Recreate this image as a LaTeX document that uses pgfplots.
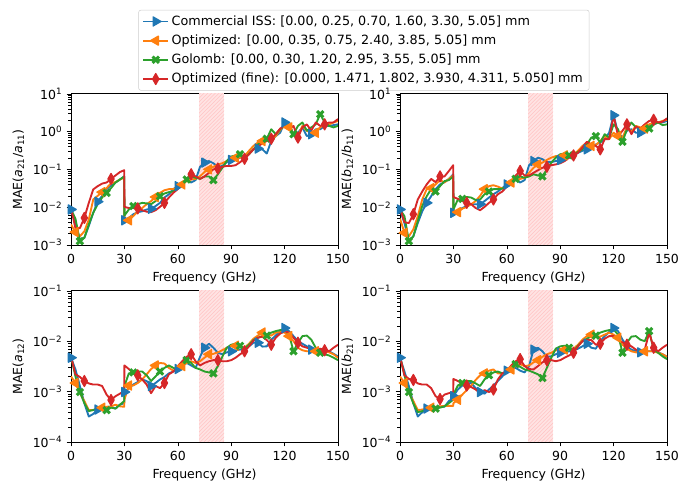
\documentclass[border=0pt]{standalone}
\usepackage{fontspec}
\setmainfont{DejaVu Sans}
\usepackage{pgfplots}
\pgfplotsset{compat=1.18}
\usepackage{pgfplotstable}
\usetikzlibrary{patterns}

\definecolor{tabblue}{HTML}{1F77B4}
\definecolor{taborange}{HTML}{FF7F0E}
\definecolor{tabgreen}{HTML}{2CA02C}
\definecolor{tabred}{HTML}{D62728}
\definecolor{bandfill}{HTML}{FFE3E3}
\definecolor{bandhatch}{HTML}{FFC4C4}

\pgfkeys{/pgf/number format/assume math mode=true}

% columns: frequency (GHz), Commercial ISS, Optimized, Golomb, Optimized (fine)
\pgfplotstableread{
f b o g r
0 8.7e-3 3.5e-3 8.7e-3 9.5e-3
2.5 3.8e-3 2.2e-3 5.0e-3 2.8e-3
5 1.4e-3 1.7e-3 1.26e-3 2.8e-3
7.5 1.55e-3 2.3e-3 1.55e-3 5.2e-3
10 3.2e-3 4.7e-3 3.5e-3 1.3e-2
12.5 7.1e-3 1.6e-2 7.1e-3 2.95e-2
15 1.4e-2 2.0e-2 1.2e-2 3.6e-2
17.5 2.0e-2 2.5e-2 1.8e-2 4.2e-2
20 3.0e-2 3.2e-2 2.4e-2 4.5e-2
22.5 3.8e-2 4.3e-2 3.2e-2 5.6e-2
25 4.5e-2 4.6e-2 4.5e-2 6.9e-2
27.5 5.4e-2 5.4e-2 5.4e-2 8.5e-2
29.9 6.5e-2 6.0e-2 6.5e-2 9.5e-2
30 4.5e-3 5.2e-3 6.0e-3 1.02e-2
32.5 5.2e-3 4.5e-3 8.7e-3 9.5e-3
35 6.5e-3 5.8e-3 1.07e-2 9.5e-3
37.5 7.4e-3 7.8e-3 1.2e-2 9.3e-3
40 7.8e-3 9.5e-3 1.3e-2 8.3e-3
42.5 8.7e-3 1.2e-2 1.26e-2 7.6e-3
45 9.1e-3 1.45e-2 1.2e-2 7.4e-3
47.5 1.07e-2 1.86e-2 1.45e-2 8.3e-3
50 1.3e-2 2.4e-2 1.95e-2 1.02e-2
52.5 1.8e-2 2.8e-2 2.3e-2 1.3e-2
55 2.2e-2 3.0e-2 2.5e-2 1.8e-2
57.5 3.0e-2 3.0e-2 2.6e-2 2.4e-2
60 3.6e-2 3.5e-2 3.2e-2 3.0e-2
62.5 4.5e-2 4.0e-2 4.0e-2 4.0e-2
65 5.2e-2 4.9e-2 5.4e-2 5.6e-2
67.5 4.5e-2 5.4e-2 6.5e-2 7.4e-2
70 5.2e-2 5.6e-2 6.0e-2 6.5e-2
72.5 0.117 6.6e-2 5.6e-2 5.6e-2
75 0.151 8.5e-2 6.5e-2 6.5e-2
77.5 0.166 0.100 6.5e-2 8.1e-2
80 0.145 0.117 5.2e-2 0.100
82.5 0.117 0.135 7.4e-2 0.105
85 0.123 0.145 0.110 0.117
87.5 0.155 0.166 0.166 0.123
90 0.178 0.186 0.219 0.123
92.5 0.186 0.204 0.234 0.129
95 0.204 0.204 0.251 0.155
97.5 0.224 0.224 0.204 0.191
100 0.275 0.309 0.251 0.251
102.5 0.339 0.417 0.339 0.339
105 0.355 0.513 0.457 0.398
107.5 0.339 0.562 0.537 0.490
110 0.263 0.631 0.646 0.562
112.5 0.562 0.631 1.15 0.646
115 0.759 0.759 0.851 0.851
117.5 0.933 1.10 1.15 1.20
120 1.74 1.41 1.41 1.41
122.5 1.55 1.29 1.55 1.15
125 0.851 0.851 0.851 1.41
127.5 0.933 0.759 1.41 0.692
130 1.29 1.41 1.74 1.29
132.5 0.759 1.05 1.05 1.55
135 0.851 0.933 1.29 1.05
137.5 1.15 0.933 1.55 1.74
140 1.15 1.29 2.88 1.41
142.5 1.41 1.55 1.74 1.55
145 1.41 1.55 1.41 1.74
147.5 1.48 1.74 1.29 1.74
150 1.55 1.91 1.41 2.14
}\tabAA

\pgfplotstableread{
f b o g r
0 8.7e-3 5.0e-3 8.7e-3 9.5e-3
2.5 3.8e-3 2.1e-3 5.8e-3 4.0e-3
5 1.26e-3 1.7e-3 1.26e-3 3.8e-3
7.5 1.7e-3 2.6e-3 1.7e-3 6.5e-3
10 3.8e-3 5.8e-3 4.3e-3 1.6e-2
12.5 7.8e-3 1.6e-2 1.07e-2 2.6e-2
15 1.3e-2 3.0e-2 1.95e-2 4.0e-2
17.5 1.95e-2 3.2e-2 3.0e-2 5.6e-2
20 3.0e-2 4.0e-2 2.6e-2 4.6e-2
22.5 4.0e-2 5.2e-2 3.6e-2 6.5e-2
25 4.6e-2 4.5e-2 4.9e-2 6.5e-2
27.5 5.6e-2 5.6e-2 5.2e-2 9.1e-2
29.9 7.4e-2 6.9e-2 6.5e-2 0.129
30 7.1e-3 6.5e-3 8.7e-3 1.86e-2
32.5 7.8e-3 7.4e-3 1.6e-2 1.66e-2
35 9.5e-3 9.1e-3 1.66e-2 1.45e-2
37.5 1.07e-2 1.02e-2 1.86e-2 1.3e-2
40 1.2e-2 1.2e-2 1.8e-2 1.2e-2
42.5 1.2e-2 1.45e-2 1.55e-2 9.5e-3
45 1.2e-2 2.0e-2 1.6e-2 8.3e-3
47.5 1.45e-2 3.0e-2 2.2e-2 1.02e-2
50 1.8e-2 3.6e-2 2.6e-2 1.3e-2
52.5 2.2e-2 3.8e-2 3.0e-2 1.6e-2
55 2.6e-2 3.5e-2 3.0e-2 2.2e-2
57.5 3.2e-2 3.1e-2 3.1e-2 2.6e-2
60 4.0e-2 3.6e-2 3.6e-2 3.5e-2
62.5 4.9e-2 4.5e-2 4.5e-2 4.9e-2
65 5.4e-2 5.2e-2 5.6e-2 6.9e-2
67.5 4.5e-2 5.6e-2 6.5e-2 9.1e-2
70 5.2e-2 6.0e-2 6.0e-2 6.9e-2
72.5 0.129 8.1e-2 6.5e-2 6.9e-2
75 0.166 0.110 7.4e-2 8.1e-2
77.5 0.204 0.135 6.9e-2 9.5e-2
80 0.186 0.151 6.5e-2 0.110
82.5 0.155 0.178 0.100 0.117
85 0.155 0.204 0.151 0.129
87.5 0.166 0.224 0.204 0.135
90 0.178 0.224 0.251 0.145
92.5 0.191 0.234 0.263 0.166
95 0.204 0.251 0.234 0.204
97.5 0.224 0.251 0.251 0.234
100 0.275 0.309 0.288 0.275
102.5 0.309 0.417 0.339 0.380
105 0.339 0.513 0.457 0.537
107.5 0.380 0.417 0.692 0.457
110 0.457 0.437 0.759 0.417
112.5 0.513 0.562 0.513 0.339
115 0.631 0.759 0.851 0.631
117.5 0.933 0.631 0.692 0.631
120 2.69 0.933 1.55 2.63
122.5 0.933 0.759 1.15 0.759
125 0.692 0.692 0.537 1.05
127.5 1.05 1.29 1.15 1.55
130 1.15 0.977 1.74 0.851
132.5 0.933 1.41 1.29 1.35
135 0.933 1.29 1.20 1.20
137.5 1.15 1.20 1.35 1.55
140 1.41 1.55 1.20 1.91
142.5 1.55 1.74 1.55 2.04
145 1.74 1.74 1.74 1.74
147.5 1.74 1.91 1.48 1.82
150 1.91 2.04 1.55 2.24
}\tabBB

\pgfplotstableread{
f b o g r
0 4.7e-3 2.0e-3 5.0e-3 5.0e-3
2.5 2.75e-3 1.48e-3 2.0e-3 2.2e-3
5 1.29e-3 9.3e-4 9.8e-4 1.95e-3
7.5 5.9e-4 6.5e-4 5.9e-4 1.62e-3
10 3.2e-4 4.3e-4 4.1e-4 1.45e-3
12.5 3.6e-4 4.3e-4 4.3e-4 1.38e-3
15 4.4e-4 4.6e-4 4.6e-4 1.38e-3
17.5 4.4e-4 4.8e-4 4.4e-4 1.29e-3
20 4.8e-4 5.0e-4 4.3e-4 8.7e-4
22.5 5.0e-4 5.1e-4 4.8e-4 6.8e-4
25 4.6e-4 5.5e-4 4.6e-4 8.1e-4
27.5 5.5e-4 5.1e-4 5.5e-4 9.1e-4
29.9 5.9e-4 5.0e-4 6.5e-4 1.02e-3
30 9.8e-4 6.9e-4 1.29e-3 3.3e-3
32.5 1.17e-3 1.32e-3 2.3e-3 2.8e-3
35 1.38e-3 1.32e-3 2.4e-3 2.3e-3
37.5 1.55e-3 1.48e-3 2.5e-3 2.1e-3
40 1.74e-3 1.74e-3 2.5e-3 1.74e-3
42.5 1.62e-3 2.2e-3 2.1e-3 1.38e-3
45 1.29e-3 2.8e-3 1.62e-3 9.3e-4
47.5 1.48e-3 3.3e-3 2.0e-3 1.29e-3
50 1.74e-3 3.7e-3 2.5e-3 1.17e-3
52.5 1.95e-3 3.6e-3 2.95e-3 1.48e-3
55 2.3e-3 2.95e-3 3.3e-3 2.2e-3
57.5 2.5e-3 2.6e-3 2.95e-3 2.5e-3
60 2.8e-3 2.8e-3 2.75e-3 3.2e-3
62.5 3.3e-3 3.2e-3 3.2e-3 4.0e-3
65 3.7e-3 3.7e-3 4.2e-3 4.9e-3
67.5 3.3e-3 4.0e-3 3.7e-3 5.5e-3
70 2.95e-3 3.7e-3 2.95e-3 4.0e-3
72.5 4.9e-3 4.0e-3 2.75e-3 3.3e-3
75 7.4e-3 4.7e-3 2.5e-3 3.7e-3
77.5 8.9e-3 5.5e-3 2.4e-3 4.0e-3
80 7.4e-3 5.6e-3 2.3e-3 4.2e-3
82.5 5.9e-3 6.0e-3 3.2e-3 4.2e-3
85 5.5e-3 6.6e-3 4.9e-3 4.0e-3
87.5 6.0e-3 7.4e-3 7.4e-3 4.0e-3
90 6.3e-3 7.9e-3 8.5e-3 4.2e-3
92.5 6.6e-3 8.1e-3 8.9e-3 4.7e-3
95 6.8e-3 7.9e-3 8.1e-3 5.5e-3
97.5 7.1e-3 7.4e-3 7.1e-3 6.3e-3
100 7.9e-3 8.9e-3 8.5e-3 7.9e-3
102.5 9.3e-3 1.12e-2 1.05e-2 1.02e-2
105 9.3e-3 1.29e-2 1.17e-2 1.17e-2
107.5 7.8e-3 1.48e-2 1.26e-2 1.23e-2
110 7.9e-3 1.35e-2 1.29e-2 1.05e-2
112.5 1.07e-2 1.29e-2 1.48e-2 8.5e-3
115 1.29e-2 1.48e-2 1.58e-2 1.17e-2
117.5 1.58e-2 1.51e-2 1.66e-2 1.41e-2
120 1.82e-2 1.48e-2 1.70e-2 1.58e-2
122.5 1.58e-2 1.26e-2 1.35e-2 1.48e-2
125 1.26e-2 1.00e-2 6.3e-3 1.17e-2
127.5 1.0e-2 7.4e-3 9.3e-3 9.3e-3
130 8.9e-3 6.6e-3 1.26e-2 7.9e-3
132.5 7.9e-3 6.3e-3 1.29e-2 7.4e-3
135 6.8e-3 6.3e-3 1.07e-2 7.1e-3
137.5 6.6e-3 6.3e-3 7.4e-3 6.8e-3
140 6.8e-3 6.3e-3 5.9e-3 7.1e-3
142.5 6.6e-3 6.3e-3 5.5e-3 6.6e-3
145 6.3e-3 6.0e-3 5.2e-3 6.3e-3
147.5 5.6e-3 5.5e-3 4.7e-3 7.4e-3
150 5.0e-3 4.7e-3 4.2e-3 8.5e-3
}\tabCC

\pgfplotstableread{
f b o g r
0 4.7e-3 2.0e-3 5.0e-3 5.0e-3
2.5 2.5e-3 1.48e-3 2.1e-3 2.1e-3
5 1.29e-3 9.3e-4 9.8e-4 1.78e-3
7.5 5.9e-4 6.5e-4 5.8e-4 1.70e-3
10 3.2e-4 4.3e-4 3.9e-4 1.45e-3
12.5 3.9e-4 4.4e-4 4.1e-4 1.38e-3
15 4.6e-4 4.6e-4 4.3e-4 1.38e-3
17.5 4.8e-4 4.8e-4 4.4e-4 1.17e-3
20 4.8e-4 5.0e-4 4.6e-4 8.1e-4
22.5 5.0e-4 5.1e-4 4.8e-4 7.1e-4
25 5.0e-4 5.2e-4 5.1e-4 8.7e-4
27.5 6.5e-4 5.2e-4 5.9e-4 9.3e-4
29.9 7.4e-4 5.2e-4 6.9e-4 9.8e-4
30 8.1e-4 5.9e-4 8.7e-4 1.78e-3
32.5 1.10e-3 6.9e-4 1.32e-3 1.62e-3
35 1.32e-3 8.7e-4 1.48e-3 1.45e-3
37.5 1.45e-3 1.07e-3 1.62e-3 1.32e-3
40 1.48e-3 1.32e-3 1.62e-3 1.23e-3
42.5 1.17e-3 1.70e-3 1.45e-3 1.10e-3
45 9.8e-4 2.1e-3 1.29e-3 9.3e-4
47.5 9.1e-4 2.3e-3 1.74e-3 1.07e-3
50 1.10e-3 2.6e-3 2.1e-3 9.8e-4
52.5 1.32e-3 2.75e-3 2.4e-3 1.10e-3
55 1.62e-3 2.3e-3 2.5e-3 1.74e-3
57.5 2.0e-3 2.3e-3 2.3e-3 2.3e-3
60 2.6e-3 2.4e-3 2.4e-3 2.6e-3
62.5 2.95e-3 2.75e-3 3.1e-3 3.3e-3
65 2.95e-3 3.3e-3 3.5e-3 4.0e-3
67.5 2.6e-3 3.5e-3 3.1e-3 4.4e-3
70 2.4e-3 3.2e-3 2.75e-3 3.2e-3
72.5 3.2e-3 3.3e-3 2.6e-3 2.8e-3
75 6.8e-3 3.8e-3 2.4e-3 2.75e-3
77.5 7.4e-3 4.2e-3 2.2e-3 3.2e-3
80 6.3e-3 4.9e-3 1.86e-3 3.8e-3
82.5 4.9e-3 5.5e-3 2.95e-3 4.2e-3
85 5.0e-3 5.9e-3 4.7e-3 4.2e-3
87.5 5.5e-3 6.6e-3 7.1e-3 4.0e-3
90 5.9e-3 7.1e-3 7.9e-3 4.2e-3
92.5 6.0e-3 6.8e-3 8.1e-3 4.7e-3
95 6.3e-3 7.1e-3 7.4e-3 5.2e-3
97.5 6.6e-3 7.1e-3 6.3e-3 5.9e-3
100 7.1e-3 8.5e-3 8.1e-3 7.9e-3
102.5 7.9e-3 1.07e-2 1.0e-2 1.0e-2
105 8.9e-3 1.26e-2 1.12e-2 1.07e-2
107.5 7.4e-3 1.35e-2 1.26e-2 1.05e-2
110 7.1e-3 1.26e-2 1.29e-2 8.5e-3
112.5 1.0e-2 1.23e-2 1.48e-2 8.9e-3
115 1.26e-2 1.35e-2 1.58e-2 1.12e-2
117.5 1.51e-2 1.48e-2 1.66e-2 1.26e-2
120 1.82e-2 1.35e-2 1.70e-2 1.26e-2
122.5 1.58e-2 1.17e-2 1.35e-2 1.07e-2
125 1.07e-2 8.5e-3 5.9e-3 9.5e-3
127.5 7.9e-3 7.1e-3 9.3e-3 8.5e-3
130 6.8e-3 6.3e-3 1.23e-2 7.9e-3
132.5 6.3e-3 6.0e-3 1.26e-2 6.8e-3
135 6.0e-3 6.0e-3 1.07e-2 6.3e-3
137.5 6.3e-3 6.3e-3 1.0e-2 6.8e-3
140 6.3e-3 6.3e-3 1.58e-2 1.48e-2
142.5 6.3e-3 6.3e-3 6.8e-3 7.4e-3
145 6.0e-3 5.9e-3 5.9e-3 6.3e-3
147.5 5.5e-3 5.5e-3 5.0e-3 7.4e-3
150 4.9e-3 4.9e-3 4.4e-3 8.5e-3
}\tabDD

% series appearance (plain TikZ styles)
\tikzset{
  bandstyle/.style={draw=none, fill=bandfill,
    postaction={pattern=north east lines, pattern color=bandhatch}},
  issline/.style={tabblue, line width=1.5pt, line join=round, mark=triangle*, mark size=4.2pt,
    mark options={rotate=-90, solid, line width=1pt},
    mark indices={1,7,14,20,26,32,38,44,50,56}},
  optline/.style={taborange, line width=1.5pt, line join=round, mark=triangle*, mark size=4.2pt,
    mark options={rotate=90, solid, line width=1pt},
    mark indices={2,8,15,21,27,33,39,45,51,57}},
  golline/.style={tabgreen, line width=1.5pt, line join=round, mark=x, mark size=3.6pt,
    mark options={solid, line width=2.4pt},
    mark indices={3,9,16,22,28,34,40,46,52,58}},
  fineline/.style={tabred, line width=1.5pt, line join=round, mark=diamond*, mark size=4.4pt,
    mark options={solid, xscale=0.75, line width=1pt},
    mark indices={4,10,17,23,29,35,41,47,53,59}},
}

\begin{document}
\begin{tikzpicture}
\path[use as bounding box] (-56.8pt,-188.8pt) rectangle (498.4pt,196pt);

% upper left: a21/a11, carries the shared legend
\begin{axis}[
  at={(0pt,0pt)}, anchor=south west,
  scale only axis, width=213.6pt, height=121pt,
  ymode=log, xmin=0, xmax=150, ymin=1e-3, ymax=10,
  xtick={0,30,60,90,120,150},
  ytick={1e-3,1e-2,1e-1,1,10},
  yticklabels={10\textsuperscript{−3},10\textsuperscript{−2},10\textsuperscript{−1},10\textsuperscript{0},10\textsuperscript{1}},
  minor ytick={2e-3,3e-3,4e-3,5e-3,6e-3,7e-3,8e-3,9e-3,2e-2,3e-2,4e-2,5e-2,6e-2,7e-2,8e-2,9e-2,0.2,0.3,0.4,0.5,0.6,0.7,0.8,0.9,2,3,4,5,6,7,8,9},
  tick pos=left, tick align=outside,
  major tick length=3.5pt, minor tick length=2pt,
  every tick/.append style={black},
  tick label style={font=\fontsize{10}{12}\selectfont},
  xlabel style={font=\fontsize{10}{12}\selectfont},
  ylabel style={font=\fontsize{10}{12}\selectfont},
  xlabel={Frequency (GHz)},
  ylabel={MAE(\textit{a}\textsubscript{21}/\textit{a}\textsubscript{11})},
  legend style={at={(1.097,1.555)}, anchor=north, draw=black!20, fill=white,
    rounded corners=2pt, font=\fontsize{10.2}{12}\selectfont,
    cells={anchor=west}, row sep=2.1pt, inner xsep=3pt, inner ysep=2.5pt},
  legend image code/.code={\draw[mark indices={2}] plot coordinates {(0pt,0pt)(10pt,0pt)(20pt,0pt)};},
]
\addplot[bandstyle, forget plot] coordinates {(72,1e-5) (72,100) (86,100) (86,1e-5)};
\addplot[issline] table[x=f,y=b] {\tabAA};
\addlegendentry{Commercial ISS: [0.00, 0.25, 0.70, 1.60, 3.30, 5.05] mm}
\addplot[optline] table[x=f,y=o] {\tabAA};
\addlegendentry{Optimized: [0.00, 0.35, 0.75, 2.40, 3.85, 5.05] mm}
\addplot[golline] table[x=f,y=g] {\tabAA};
\addlegendentry{Golomb: [0.00, 0.30, 1.20, 2.95, 3.55, 5.05] mm}
\addplot[fineline] table[x=f,y=r] {\tabAA};
\addlegendentry{Optimized (fine): [0.000, 1.471, 1.802, 3.930, 4.311, 5.050] mm}
\end{axis}

% upper right: b12/b11
\begin{axis}[
  at={(263.2pt,0pt)}, anchor=south west,
  scale only axis, width=213.6pt, height=121pt,
  ymode=log, xmin=0, xmax=150, ymin=1e-3, ymax=10,
  xtick={0,30,60,90,120,150},
  ytick={1e-3,1e-2,1e-1,1,10},
  yticklabels={10\textsuperscript{−3},10\textsuperscript{−2},10\textsuperscript{−1},10\textsuperscript{0},10\textsuperscript{1}},
  minor ytick={2e-3,3e-3,4e-3,5e-3,6e-3,7e-3,8e-3,9e-3,2e-2,3e-2,4e-2,5e-2,6e-2,7e-2,8e-2,9e-2,0.2,0.3,0.4,0.5,0.6,0.7,0.8,0.9,2,3,4,5,6,7,8,9},
  tick pos=left, tick align=outside,
  major tick length=3.5pt, minor tick length=2pt,
  every tick/.append style={black},
  tick label style={font=\fontsize{10}{12}\selectfont},
  xlabel style={font=\fontsize{10}{12}\selectfont},
  ylabel style={font=\fontsize{10}{12}\selectfont},
  xlabel={Frequency (GHz)},
  ylabel={MAE(\textit{b}\textsubscript{12}/\textit{b}\textsubscript{11})},
]
\addplot[bandstyle, forget plot] coordinates {(72,1e-5) (72,100) (86,100) (86,1e-5)};
\addplot[issline] table[x=f,y=b] {\tabBB};
\addplot[optline] table[x=f,y=o] {\tabBB};
\addplot[golline] table[x=f,y=g] {\tabBB};
\addplot[fineline] table[x=f,y=r] {\tabBB};
\end{axis}

% lower left: a12
\begin{axis}[
  at={(0pt,-157.6pt)}, anchor=south west,
  scale only axis, width=213.6pt, height=121pt,
  ymode=log, xmin=0, xmax=150, ymin=1e-4, ymax=1e-1,
  xtick={0,30,60,90,120,150},
  ytick={1e-4,1e-3,1e-2,1e-1},
  yticklabels={10\textsuperscript{−4},10\textsuperscript{−3},10\textsuperscript{−2},10\textsuperscript{−1}},
  minor ytick={2e-4,3e-4,4e-4,5e-4,6e-4,7e-4,8e-4,9e-4,2e-3,3e-3,4e-3,5e-3,6e-3,7e-3,8e-3,9e-3,2e-2,3e-2,4e-2,5e-2,6e-2,7e-2,8e-2,9e-2},
  tick pos=left, tick align=outside,
  major tick length=3.5pt, minor tick length=2pt,
  every tick/.append style={black},
  tick label style={font=\fontsize{10}{12}\selectfont},
  xlabel style={font=\fontsize{10}{12}\selectfont},
  ylabel style={font=\fontsize{10}{12}\selectfont},
  xlabel={Frequency (GHz)},
  ylabel={MAE(\textit{a}\textsubscript{12})},
]
\addplot[bandstyle, forget plot] coordinates {(72,1e-6) (72,1) (86,1) (86,1e-6)};
\addplot[issline] table[x=f,y=b] {\tabCC};
\addplot[optline] table[x=f,y=o] {\tabCC};
\addplot[golline] table[x=f,y=g] {\tabCC};
\addplot[fineline] table[x=f,y=r] {\tabCC};
\end{axis}

% lower right: b21
\begin{axis}[
  at={(263.2pt,-157.6pt)}, anchor=south west,
  scale only axis, width=213.6pt, height=121pt,
  ymode=log, xmin=0, xmax=150, ymin=1e-4, ymax=1e-1,
  xtick={0,30,60,90,120,150},
  ytick={1e-4,1e-3,1e-2,1e-1},
  yticklabels={10\textsuperscript{−4},10\textsuperscript{−3},10\textsuperscript{−2},10\textsuperscript{−1}},
  minor ytick={2e-4,3e-4,4e-4,5e-4,6e-4,7e-4,8e-4,9e-4,2e-3,3e-3,4e-3,5e-3,6e-3,7e-3,8e-3,9e-3,2e-2,3e-2,4e-2,5e-2,6e-2,7e-2,8e-2,9e-2},
  tick pos=left, tick align=outside,
  major tick length=3.5pt, minor tick length=2pt,
  every tick/.append style={black},
  tick label style={font=\fontsize{10}{12}\selectfont},
  xlabel style={font=\fontsize{10}{12}\selectfont},
  ylabel style={font=\fontsize{10}{12}\selectfont},
  xlabel={Frequency (GHz)},
  ylabel={MAE(\textit{b}\textsubscript{21})},
]
\addplot[bandstyle, forget plot] coordinates {(72,1e-6) (72,1) (86,1) (86,1e-6)};
\addplot[issline] table[x=f,y=b] {\tabDD};
\addplot[optline] table[x=f,y=o] {\tabDD};
\addplot[golline] table[x=f,y=g] {\tabDD};
\addplot[fineline] table[x=f,y=r] {\tabDD};
\end{axis}
\end{tikzpicture}
\end{document}
